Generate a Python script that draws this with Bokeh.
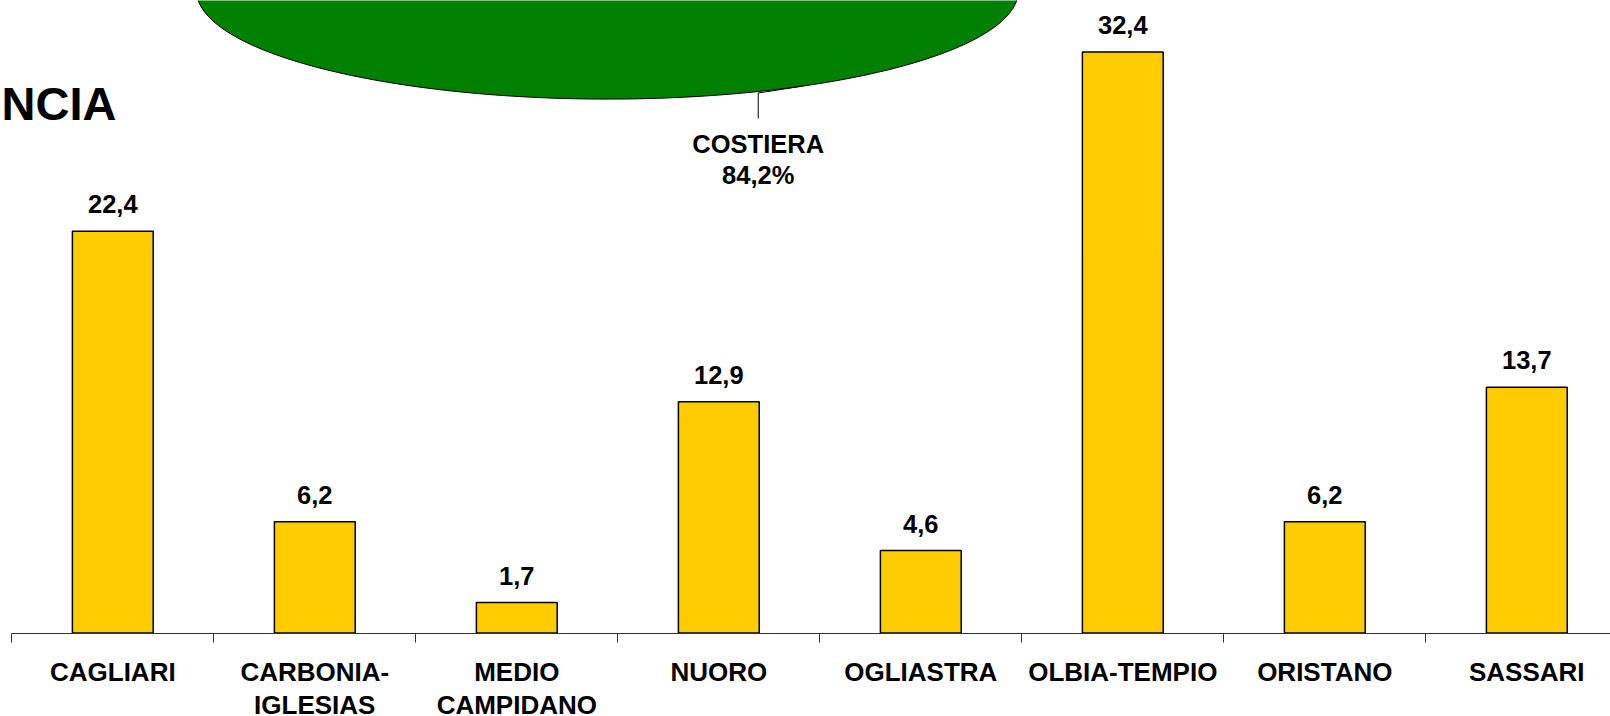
import math
from bokeh.plotting import figure
from bokeh.models import Range1d, LinearAxis, FixedTicker, ColumnDataSource
from bokeh.core.properties import value
from bokeh.embed import file_html
from bokeh.resources import INLINE

# ---------------- data ----------------
categories = ["CAGLIARI", "CARBONIA-\nIGLESIAS", "MEDIO\nCAMPIDANO", "NUORO",
              "OGLIASTRA", "OLBIA-TEMPIO", "ORISTANO", "SASSARI"]
values = [22.4, 6.2, 1.7, 12.9, 4.6, 32.4, 6.2, 13.7]
pie_labels = ["COSTIERA", "INTERNA"]
pie_shares = [84.2, 15.8]
title_text = "NCIA"

# ---------------- style ----------------
FONT = "Liberation Sans"
BAR_COLOR = "#FFCC00"
PIE_COLORS = ["#008000", "#FFCC00"]
PX_X = 202.0      # pixels per category
PX_Y = 17.93      # pixels per unit
BASE = 632.5      # pixel row of the zero line

W, H = 1610, 716

x_start = (0 - 11.3) / PX_X - 0.5
x_end = x_start + W / PX_X
y_end = BASE / PX_Y
y_start = y_end - H / PX_Y


def ypix(py):
    """data y of a pixel row"""
    return (BASE - py) / PX_Y


def xpix(px):
    return (px - 11.3) / PX_X - 0.5


p = figure(width=W, height=H, output_backend="svg", toolbar_location=None,
           x_range=Range1d(x_start, x_end), y_range=Range1d(y_start, y_end),
           x_axis_location=None, y_axis_location=None, min_border=0,
           outline_line_color=None, background_fill_color="white",
           border_fill_color="white")
p.xgrid.visible = False
p.ygrid.visible = False

idx = list(range(len(categories)))
src = ColumnDataSource(dict(
    x=idx, top=values,
    label=[f"{v:.1f}".replace(".", ",") for v in values],
    label_y=[v + 27 / PX_Y for v in values],
))

p.vbar(x="x", top="top", bottom=0, width=0.40, source=src,
       fill_color=BAR_COLOR, line_color="black", line_width=1.5)
p.text(x="x", y="label_y", text="label", source=src,
       text_font=value(FONT), text_font_style="bold", text_font_size="25.5px",
       text_align="center", text_baseline="middle", text_color="black")

# x axis: labels at centres, tick marks at category boundaries
xaxis = LinearAxis(fixed_location=0)
xaxis.ticker = FixedTicker(ticks=idx, minor_ticks=[i - 0.5 for i in range(len(categories) + 1)])
xaxis.bounds = (-0.5, len(categories) - 0.5)
xaxis.major_label_overrides = {i: c for i, c in enumerate(categories)}
xaxis.major_tick_out = 0
xaxis.major_tick_in = 0
xaxis.minor_tick_out = 9
xaxis.minor_tick_in = 0
xaxis.axis_line_color = "#333333"
xaxis.axis_line_width = 1
xaxis.minor_tick_line_color = "#333333"
xaxis.major_label_standoff = 15
xaxis.major_label_text_font = FONT
xaxis.major_label_text_font_style = "bold"
xaxis.major_label_text_font_size = "26px"
xaxis.major_label_text_color = "black"
xaxis.major_label_text_line_height = 1.11
p.add_layout(xaxis, "below")

# ---------------- pie (only its lower part is in view) ----------------
cx, cy = xpix(607), ypix(-10)
ra, rb = 411 / PX_X, 108.6 / PX_Y
xs, ys = [], []
start = 0.0
mids = []
for share in pie_shares:
    sweep = share / 100.0 * 2 * math.pi
    n = 240
    ts = [start + sweep * k / n for k in range(n + 1)]
    xs.append([cx] + [cx + ra * math.sin(t) for t in ts] + [cx])
    ys.append([cy] + [cy + rb * math.cos(t) for t in ts] + [cy])
    mids.append(start + sweep / 2)
    start += sweep
p.patches(xs, ys, fill_color=PIE_COLORS, line_color="black", line_width=1)

# label + leader for the first slice
t = mids[0]
px_, py_ = cx + ra * math.sin(t), cy + rb * math.cos(t)
lx = px_ - 45 / PX_X
p.line([px_, lx, lx], [py_, py_ - 7 / PX_Y, ypix(118)],
       line_color="black", line_width=1)
p.text(x=[lx, lx], y=[ypix(143.5), ypix(174)],
       text=[pie_labels[0], f"{pie_shares[0]:.1f}%".replace(".", ",")],
       text_font=value(FONT), text_font_style="bold", text_font_size="25.5px",
       text_align="center", text_baseline="middle", text_color="black")

# partially visible title
p.text(x=[xpix(116)], y=[ypix(103)], text=[title_text],
       text_font=value(FONT), text_font_style="bold", text_font_size="47px",
       text_align="right", text_baseline="middle", text_color="black")

open("out.html", "w").write(file_html(p, INLINE))
